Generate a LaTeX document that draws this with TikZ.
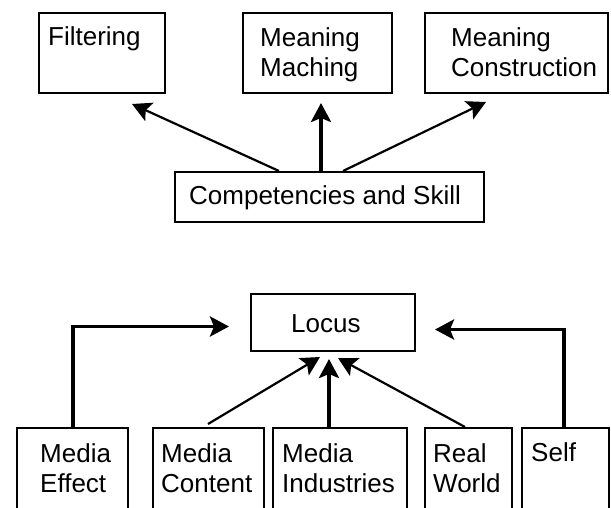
\documentclass[tikz,border=0pt]{standalone}
\usepackage{fontspec}
\setmainfont{Liberation Sans}
\usetikzlibrary{arrows.meta,calc}
\begin{document}
\begin{tikzpicture}[x=1pt,y=-1pt,
  box/.style={draw,line width=2pt,inner sep=0pt,anchor=north west},
  txt/.style={inner sep=0pt,anchor=base west,align=left,font=\fontsize{26}{30}\selectfont},
  thin/.style={line width=2.2pt,-{Stealth[length=19pt,width=20pt,inset=4pt]}},
  thick/.style={line width=3.8pt,-{Stealth[length=19pt,width=20pt,inset=4pt]}}]
\useasboundingbox (0,0) rectangle (611,507);
\clip (0,0) rectangle (611,507);
% top boxes
\node[box,minimum width=126pt,minimum height=80pt] (filt) at (38,12) {};
\node[box,minimum width=149pt,minimum height=80pt] (mm) at (242,12) {};
\node[box,minimum width=183pt,minimum height=80pt] (mc) at (424,12) {};
\node[box,minimum width=309pt,minimum height=50pt] (comp) at (174,171) {};
\node[txt] (tfilt) at (48,45) {Filtering};
\node[txt] (tmm) at (260,76) {Meaning\\Maching};
\node[txt] (tmc) at (451,76) {Meaning\\Construction};
\node[txt] (tcomp) at (189,204) {Competencies and Skill};
% bottom boxes
\node[box,minimum width=164pt,minimum height=57pt] (locus) at (250,293) {};
\node[box,minimum width=111pt,minimum height=100pt] (me) at (16,427) {};
\node[box,minimum width=111pt,minimum height=100pt] (mcon) at (152,427) {};
\node[box,minimum width=134pt,minimum height=100pt] (mind) at (272,427) {};
\node[box,minimum width=87pt,minimum height=100pt] (rw) at (424,427) {};
\node[box,minimum width=87pt,minimum height=100pt] (self) at (521,427) {};
\node[txt] (tlocus) at (291,332) {Locus};
\node[txt] (tme) at (40,492) {Media\\Effect};
\node[txt] (tmcon) at (161,492) {Media\\Content};
\node[txt] (tmind) at (282,492) {Media\\Industries};
\node[txt] (trw) at (433,492) {Real\\World};
\node[txt] (tself) at (531,461) {Self};
% arrow end points
\coordinate (e1) at ($(filt.south west)+(94,10)$);
\coordinate (e2) at ($(mm.south west)+(79,9)$);
\coordinate (e3) at ($(mc.south west)+(62,8)$);
\coordinate (l1) at ($(locus.west)+(-21,4)$);
\coordinate (l2) at ($(locus.east)+(19,7)$);
\coordinate (l3) at ($(locus.south west)+(70,5)$);
\coordinate (l4) at ($(locus.south west)+(79,7)$);
\coordinate (l5) at ($(locus.south west)+(88,6)$);
% top connectors
\draw[thin] ($(comp.north west)+(105,0)$) -- (e1);
\draw[thick] (comp.north -| e2) -- (e2);
\draw[thin] ($(comp.north west)+(169,0)$) -- (e3);
% bottom connectors
\draw[thick] ($(me.north west)+(57,0)$) |- (l1);
\draw[thick] ($(self.north west)+(43,0)$) |- (l2);
\draw[thin] ($(mcon.north west)+(56,-3)$) -- (l3);
\draw[thick] (mind.north -| l4) -- (l4);
\draw[thin] ($(rw.north west)+(41,0)$) -- (l5);
\end{tikzpicture}
\end{document}
